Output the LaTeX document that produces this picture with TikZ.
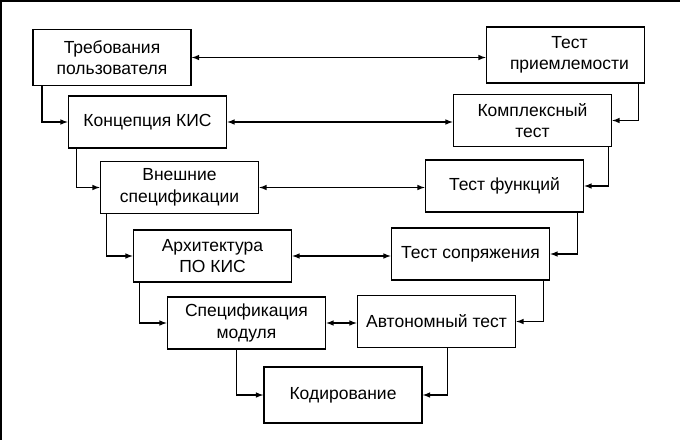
\documentclass[tikz,border=0pt]{standalone}
\usepackage{fontspec}
\setmainfont{Liberation Sans}
\usepackage{tikz}
\usetikzlibrary{arrows, positioning, calc}
\tikzset{
  phase/.style={rectangle,draw=black,line width=1.6pt,fill=white,align=center,minimum width=158pt,minimum height=52pt,inner sep=2pt,font=\fontsize{17.5}{21.5}\selectfont},
  phase_t/.style={phase,minimum height=56pt},
  relation/.style={line width=1.5pt,-latex,black},
  relationlr/.style={relation,latex-latex},
}
\begin{document}
\begin{tikzpicture}[x=1pt,y=-1pt]
	    \useasboundingbox (0,0) rectangle (680,440);
	    \draw[line width=2pt] (680,1) -- (1,1) -- (1,440);
	    \node[phase_t] (L1) at (112,57.5) {Требования\\пользователя};
	    \node[phase] (L2) at (147.5,122) {Концепция КИС};
	    \node[phase] (L3) at (179.5,187.5) {Внешние\\спецификации};
	    \node[phase] (L4) at (212.5,256) {Архитектура\\ПО КИС};
	    \node[phase] (L5) at (246.5,323) {Спецификация\\модуля};
	    \node[phase_t] (C) at (343,395) {Кодирование};
	    \node[phase_t] (R1) at (565.5,55) {\hspace*{8pt}Тест\\\hspace*{8pt}приемлемости};
	    \node[phase] (R2) at (532.5,120.5) {Комплексный\\тест};
	    \node[phase] (R3) at (504.5,186) {Тест функций};
	    \node[phase] (R4) at (470.5,254) {Тест сопряжения};
	    \node[phase] (R5) at (436.5,321.5) {Автономный тест};
	    \draw[relation] ([xshift=10pt]L1.south west) |- (L2.west);
	    \draw[relation] ([xshift=9pt]L2.south west) |- (L3.west);
	    \draw[relation] ([xshift=7pt]L3.south west) |- (L4.west);
	    \draw[relation] ([xshift=7pt]L4.south west) |- (L5.west);
	    \draw[relation] ([xshift=70pt]L5.south west) |- (C.west);
	    \draw[relation] ([xshift=-7pt]R1.south east) |- (R2.east);
	    \draw[relation] ([xshift=-4pt]R2.south east) |- (R3.east);
	    \draw[relation] ([xshift=-7pt]R3.south east) |- (R4.east);
	    \draw[relation] ([xshift=-7pt]R4.south east) |- (R5.east);
	    \draw[relation] ([xshift=-69pt]R5.south east) |- (C.east);
	    \draw[relationlr] (L1.east) -- (L1.east -| R1.west);
	    \draw[relationlr] (L2.east) -- (L2.east -| R2.west);
	    \draw[relationlr] (L3.east) -- (L3.east -| R3.west);
	    \draw[relationlr] (L4.east) -- (L4.east -| R4.west);
	    \draw[relationlr] (L5.east) -- (L5.east -| R5.west);
\end{tikzpicture}
\end{document}
